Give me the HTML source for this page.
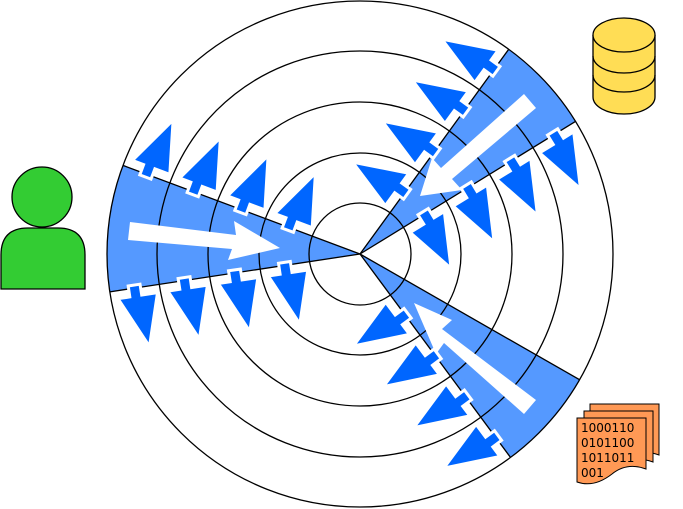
<!DOCTYPE html>
<html><head><meta charset="utf-8"><style>
html,body{margin:0;padding:0;background:#fff;width:683px;height:509px;overflow:hidden}
svg{display:block}
</style></head><body>
<svg id="s" width="683" height="509" viewBox="0 0 683 509" xmlns="http://www.w3.org/2000/svg">
<g id="wedges"></g>
<g fill="none" stroke="#000" stroke-width="1.3">
<circle cx="360" cy="254" r="51"/><circle cx="360" cy="254" r="101"/><circle cx="360" cy="254" r="152"/><circle cx="360" cy="254" r="203"/><circle cx="360" cy="254" r="253"/>
</g>
<g id="edges" stroke="#000" stroke-width="1.3"></g>
<g id="arrows"></g>
<g fill="#fff">
<polygon points="130,222 236,235 234,221 280,248 228,260 232,249 128,240"/>
<polygon points="524,94 536,108 452,179 462,190 420,196 432,158 441,168"/>
<polygon points="536,400 524,414 444,343 436,354 414,303 452,320 442,329"/>
</g>
<g fill="#33cc33" stroke="#000" stroke-width="1.3">
<circle cx="42" cy="197" r="30"/>
<path d="M1,289 L1,255 Q1,228 28,228 L58,228 Q85,228 85,255 L85,289 Z"/>
</g>
<g fill="#ffdd55" stroke="#000" stroke-width="1.3">
<path d="M593,35 L593,97 A31,17 0 0 0 655,97 L655,35"/>
<path d="M593,56 A31,17 0 0 0 655,56" fill="none"/>
<path d="M593,75 A31,17 0 0 0 655,75" fill="none"/>
<ellipse cx="624" cy="35" rx="31" ry="17"/>
</g>
<g fill="#ff9955" stroke="#000" stroke-width="1">
<path d="M590,404 L659,404 L659,455 Q640,448 625,458 Q605,468 590,460 Z"/>
<path d="M584,411 L653,411 L653,462 Q634,455 619,465 Q599,475 584,467 Z"/>
<path d="M577,418 L646,418 L646,469 Q627,462 612,474 Q594,488 577,482 Z"/>
</g>
<g font-family="'DejaVu Sans','Liberation Sans',sans-serif" font-size="12" fill="#000">
<text x="581" y="432">1000110</text>
<text x="581" y="447">0101100</text>
<text x="581" y="462">1011011</text>
<text x="581" y="477">001</text>
</g>
</svg>
<script>
var C=[360,254],R=[51,101,152,203,253];
var W=[[171.4,200.5,[1,1]],[-54,-31.6,[1,1]],[29.8,53.5,[0,1]]];
var ns="http://www.w3.org/2000/svg";
function el(p,t,a){var e=document.createElementNS(ns,t);for(var k in a)e.setAttribute(k,a[k]);document.getElementById(p).appendChild(e);}
function pt(a,r){var t=a*Math.PI/180;return [C[0]+r*Math.cos(t),C[1]+r*Math.sin(t)];}
W.forEach(function(w){
 var a=pt(w[0],253),b=pt(w[1],253);
 el("wedges","path",{d:"M360,254 L"+a+" A253,253 0 0 1 "+b+" Z",fill:"#5599ff"});
 el("edges","line",{x1:360,y1:254,x2:a[0],y2:a[1]});
 el("edges","line",{x1:360,y1:254,x2:b[0],y2:b[1]});
 [[w[0],-1,w[2][0]],[w[1],1,w[2][1]]].forEach(function(s){
  if(!s[2])return;
  var t=s[0]*Math.PI/180,u=[Math.cos(t),Math.sin(t)];
  var n=[-u[1]*s[1],u[0]*s[1]];
  for(var k=0;k<4;k++){
   var r=(R[k]+R[k+1])/2;
   var P=[C[0]+u[0]*r,C[1]+u[1]*r];
   function q(x,y){return (P[0]+u[0]*x+n[0]*y).toFixed(1)+","+(P[1]+u[1]*x+n[1]*y).toFixed(1);}
   var pts=[q(-6,-3),q(-6,8),q(-22,8),q(-6,60),q(18,8),q(6,8),q(6,-3)].join(" ");
   el("arrows","polygon",{points:pts,fill:"#0066ff",stroke:"#fff","stroke-width":"3","stroke-linejoin":"miter"});
  }
 });
});
</script>
</body></html>
